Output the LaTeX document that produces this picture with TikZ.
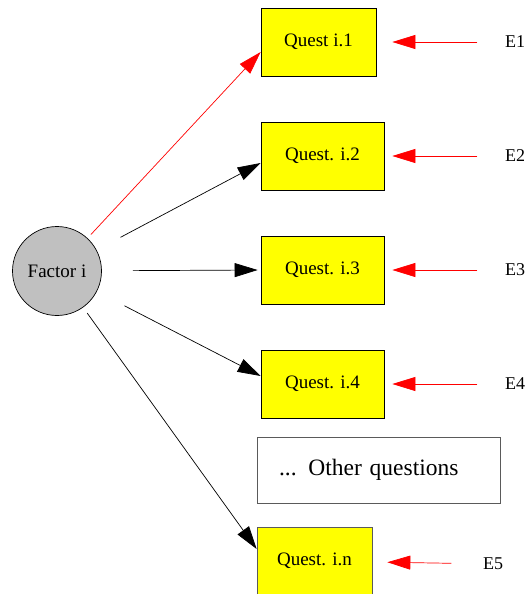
\documentclass[tikz,border=0pt]{standalone}
\usepackage{fontspec}
\setmainfont{Liberation Serif}
\usetikzlibrary{arrows.meta}
\definecolor{qyellow}{RGB}{255,255,0}
\definecolor{fgray}{RGB}{192,192,192}
\definecolor{ered}{RGB}{255,0,0}
\definecolor{boxgray}{RGB}{90,90,90}

\begin{document}
\begin{tikzpicture}[x=1pt,y=-1pt,line width=0.7pt,
  quest/.style={draw, fill=qyellow, minimum height=68pt, inner sep=0pt, font=\fontsize{19}{22}\selectfont},
  errlab/.style={font=\fontsize{18}{21}\selectfont},
  tip/.style={-{Triangle[length=23pt,width=14pt]}}]
\useasboundingbox (0,0) rectangle (528,594);

% Factor
\node[circle, draw, fill=fgray, minimum size=89pt, inner sep=0pt, font=\fontsize{19}{22}\selectfont] (fac) at (57,271) {Factor i};

% Questions
\node[quest, minimum width=115pt] (q1) at (318.5,42) {Quest i.1};
\node[quest, minimum width=123pt] (q2) at (322.5,156) {Quest. i.2};
\node[quest, minimum width=123pt] (q3) at (322.5,270) {Quest. i.3};
\node[quest, minimum width=123pt] (q4) at (322.5,384) {Quest. i.4};
\node[draw=boxgray, minimum width=243pt, minimum height=66pt, text width=199pt, inner xsep=22pt, align=left, font=\fontsize{23.5}{28}\selectfont] (oth) at (378.5,470) {... Other questions};
\node[quest, draw=boxgray, minimum width=115pt] (qn) at (314.5,561) {Quest. i.n};

% Errors
\node[errlab] (e1) at (515,42) {E1};
\node[errlab] (e2) at (515,156) {E2};
\node[errlab] (e3) at (515,270) {E3};
\node[errlab] (e4) at (515,384) {E4};
\node[errlab] (e5) at (493,564) {E5};

% Loadings
\draw[tip, ered, shorten <=5pt] (fac) -- ([yshift=-10pt]q1.west);
\draw[tip, shorten <=27pt] (fac) -- ([yshift=-7pt]q2.west);
\draw[tip, shorten <=31pt, shorten >=3pt] (fac) -- (q3.west);
\draw[tip, shorten <=31pt] (fac) -- ([yshift=8pt]q4.west);
\draw[tip, shorten <=7pt] (fac) -- ([yshift=12pt]qn.west);

% Error arrows
\draw[tip, ered, shorten <=24pt, shorten >=16pt] (e1) -- (q1);
\draw[tip, ered, shorten <=24pt, shorten >=8pt] (e2) -- (q2);
\draw[tip, ered, shorten <=24pt, shorten >=8pt] (e3) -- (q3);
\draw[tip, ered, shorten <=24pt, shorten >=8pt] (e4) -- (q4);
\draw[tip, ered, shorten <=28pt, shorten >=15pt] (e5) -- (qn);
\end{tikzpicture}
\end{document}
